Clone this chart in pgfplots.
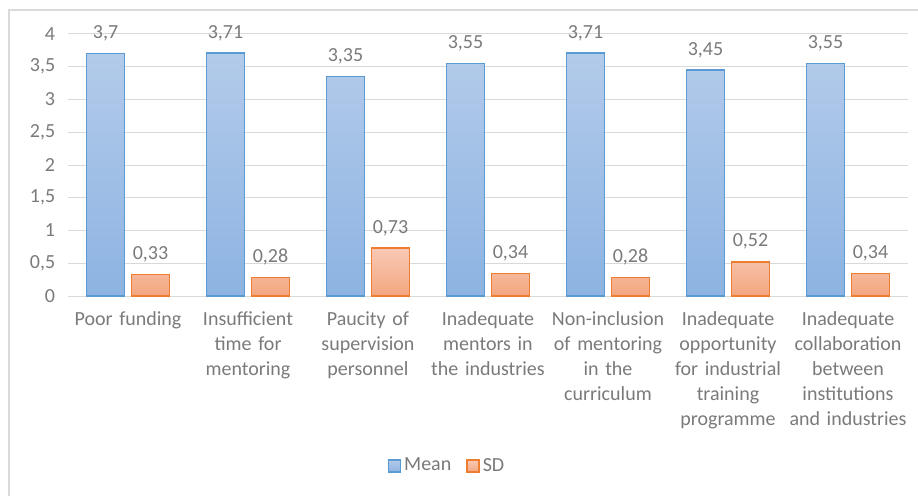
\documentclass[border=0pt]{standalone}
\usepackage{pgfplots}
\pgfplotsset{compat=1.18}
\usepackage{fontspec}
\setmainfont{Carlito}
\definecolor{txt}{HTML}{7A7A7A}
\definecolor{gridc}{HTML}{D9D9D9}
\definecolor{meanedge}{HTML}{5B9BD5}
\definecolor{meantop}{HTML}{B3CBEA}
\definecolor{meanbot}{HTML}{8DB3E2}
\definecolor{sdedge}{HTML}{ED7D31}
\definecolor{sdtop}{HTML}{F8C9B4}
\definecolor{sdbot}{HTML}{F4A680}
\begin{document}
\fontsize{20bp}{25bp}\selectfont
\begin{tikzpicture}
\useasboundingbox (-68bp,-200bp) rectangle (850bp,296bp);
\draw[gridc, line width=1.5bp] (-59bp,-220bp) -- (-59bp,286bp) -- (870bp,286bp);
\begin{axis}[
    scale only axis,
    width=840bp, height=262bp,
    ybar=7bp, bar width=38bp,
    xmin=-0.5, xmax=6.5,
    ymin=0, ymax=4,
    ytick={0,0.5,...,4},
    xtick=data,
    xticklabels={Poor funding, Insufficient time for mentoring, Paucity of supervision personnel, Inadequate mentors in the industries, Non-inclusion of mentoring in the curriculum, Inadequate opportunity for industrial training programme, Inadequate collaboration between institutions and industries},
    xticklabel style={text width=120bp, align=center, font=\fontsize{20bp}{25bp}\selectfont, yshift=-9bp, text=txt},
    yticklabel style={font=\fontsize{20bp}{25bp}\selectfont, text=txt, xshift=-6bp},
    /pgf/number format/use comma,
    /pgf/number format/assume math mode=true,
    ymajorgrids, grid style={gridc, line width=1bp},
    axis x line*=bottom, axis y line*=left,
    x axis line style={gridc, line width=1bp},
    y axis line style={draw=none},
    major tick length=0pt,
    nodes near coords,
    nodes near coords style={font=\fontsize{20bp}{25bp}\selectfont, text=txt, yshift=5bp},
    legend style={at={(0.444,-0.649)}, anchor=center, draw=none, legend columns=2,
        font=\fontsize{20bp}{25bp}\selectfont, text=txt, column sep=1bp},
    legend image code/.code={\path (-12bp,0bp); \draw[#1] (0bp,-6bp) rectangle (12bp,6bp);},
]
\addplot[draw=meanedge, line width=1.5bp, top color=meantop, bottom color=meanbot]
    coordinates {(0,3.7) (1,3.71) (2,3.35) (3,3.55) (4,3.71) (5,3.45) (6,3.55)};
\addplot[draw=sdedge, line width=1.5bp, top color=sdtop, bottom color=sdbot]
    coordinates {(0,0.33) (1,0.28) (2,0.73) (3,0.34) (4,0.28) (5,0.52) (6,0.34)};
\legend{Mean, SD}
\end{axis}
\end{tikzpicture}
\end{document}
